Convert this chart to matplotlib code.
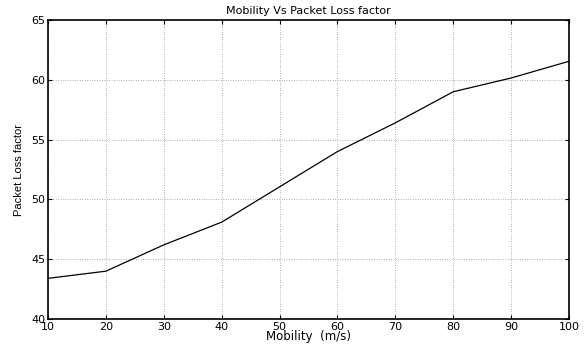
import matplotlib
matplotlib.use("Agg")
import matplotlib.pyplot as plt

# Mobility (m/s) vs packet loss factor
mobility = [10, 20, 30, 40, 50, 60, 70, 80, 90, 100]
packet_loss = [43.4, 44.0, 46.2, 48.1, 51.05, 54.0, 56.4, 59.0, 60.15, 61.55]

x_ticks = [10, 20, 30, 40, 50, 60, 70, 80, 90, 100]
y_ticks = [40, 45, 50, 55, 60, 65]

plt.rcParams["font.family"] = ["DejaVu Sans"]

fig = plt.figure(figsize=(5.87, 3.48), dpi=100)
ax = fig.add_axes([0.0818, 0.0833, 0.8875, 0.8592])

ax.plot(mobility, packet_loss, "-", color="black", linewidth=0.9)

ax.set_xlim(10, 100)
ax.set_ylim(40, 65)
ax.set_xticks(x_ticks)
ax.set_yticks(y_ticks)

# Dotted grid, inward ticks on all sides
ax.grid(True, linestyle=(0, (1, 2.5)), color="black", linewidth=0.5, alpha=0.6)
ax.tick_params(direction="in", top=True, right=True, length=3, width=0.8,
               labelsize=8, pad=2)
for spine in ax.spines.values():
    spine.set_linewidth(1.2)

ax.set_title("Mobility Vs Packet Loss factor", fontsize=8, pad=4)
ax.set_xlabel("Mobility  (m/s)", fontsize=8.5, labelpad=-1)
ax.set_ylabel("Packet Loss factor", fontsize=8, labelpad=5, family="Liberation Sans")

fig.savefig("out.png", dpi=100)
